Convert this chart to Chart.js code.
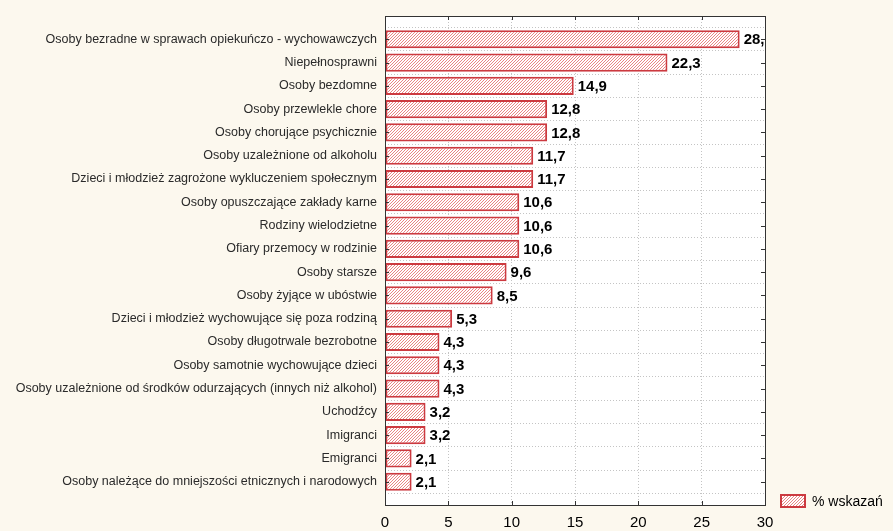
<!DOCTYPE html>
<html lang="pl">
<head>
<meta charset="UTF-8">
<title>% wskazań</title>
<script src="https://cdn.jsdelivr.net/npm/chart.js"></script>
<style>
    body {
        margin: 0;
        background: #fcf8ee;
    }
    #wrap {
        width: 893px;
        height: 531px;
    }
</style>
</head>
<body>
<div id="wrap"><canvas id="chart"></canvas></div>
<script>
    const categories = [
        'Osoby bezradne w sprawach opiekuńczo - wychowawczych',
        'Niepełnosprawni',
        'Osoby bezdomne',
        'Osoby przewlekle chore',
        'Osoby chorujące psychicznie',
        'Osoby uzależnione od alkoholu',
        'Dzieci i młodzież zagrożone wykluczeniem społecznym',
        'Osoby opuszczające zakłady karne',
        'Rodziny wielodzietne',
        'Ofiary przemocy w rodzinie',
        'Osoby starsze',
        'Osoby żyjące w ubóstwie',
        'Dzieci i młodzież wychowujące się poza rodziną',
        'Osoby długotrwale bezrobotne',
        'Osoby samotnie wychowujące dzieci',
        'Osoby uzależnione od środków odurzających (innych niż alkohol)',
        'Uchodźcy',
        'Imigranci',
        'Emigranci',
        'Osoby należące do mniejszości etnicznych i narodowych'
    ];
    const values = [28.0, 22.3, 14.9, 12.8, 12.8, 11.7, 11.7, 10.6, 10.6, 10.6,
                    9.6, 8.5, 5.3, 4.3, 4.3, 4.3, 3.2, 3.2, 2.1, 2.1];
    const seriesName = '% wskazań';
    const xTicks = [0, 5, 10, 15, 20, 25, 30];

    // empty slot above and below so the bars sit one step away from the frame
    const labels = [''].concat(categories, ['']);
    const data = [null].concat(values, [null]);

    // pink diagonal hatch, one pixel per row so it stays crisp
    function hatch() {
        const c = document.createElement('canvas');
        c.width = 3; c.height = 3;
        const g = c.getContext('2d');
        g.fillStyle = '#ffffff';
        g.fillRect(0, 0, 3, 3);
        g.fillStyle = '#e98585';
        for (let i = 0; i < 3; i++) g.fillRect(i, 2 - i, 1, 1);
        return g.createPattern(c, 'repeat');
    }
    const pattern = hatch();
    const barBorder = '#cc3a40';
    const font = '"Liberation Sans", Arial, sans-serif';

    const frame = {
        id: 'frame',
        beforeDraw(chart) {
            const { ctx, chartArea: a } = chart;
            ctx.save();
            ctx.fillStyle = '#ffffff';
            ctx.fillRect(a.left, a.top, a.right - a.left, a.bottom - a.top);
            ctx.restore();
        },
        afterDraw(chart) {
            const { ctx, chartArea: a, scales } = chart;
            ctx.save();
            ctx.strokeStyle = '#333333';
            ctx.lineWidth = 1;
            ctx.beginPath();
            for (let i = 1; i <= categories.length; i++) {
                const y = Math.round(scales.y.getPixelForValue(i)) + 0.5;
                ctx.moveTo(a.left, y); ctx.lineTo(a.left + 4, y);
                ctx.moveTo(a.right - 4, y); ctx.lineTo(a.right, y);
            }
            xTicks.forEach(v => {
                const x = Math.round(scales.x.getPixelForValue(v)) + 0.5;
                ctx.moveTo(x, a.bottom); ctx.lineTo(x, a.bottom - 4);
                ctx.moveTo(x, a.top); ctx.lineTo(x, a.top + 4);
            });
            ctx.stroke();
            ctx.strokeRect(Math.round(a.left) + 0.5, Math.round(a.top) + 0.5,
                Math.round(a.right - a.left), Math.round(a.bottom - a.top));

            // legend box under the right side of the frame
            ctx.fillStyle = pattern;
            ctx.fillRect(781, 495, 24, 12);
            ctx.strokeStyle = barBorder;
            ctx.lineWidth = 2;
            ctx.strokeRect(781, 495, 24, 12);
            ctx.fillStyle = '#000000';
            ctx.font = '14px ' + font;
            ctx.textBaseline = 'middle';
            ctx.fillText(seriesName, 812, 502);

            // value labels, clipped to the plot frame
            ctx.beginPath();
            ctx.rect(a.left, a.top, a.right - a.left, a.bottom - a.top);
            ctx.clip();
            ctx.font = 'bold 15px ' + font;
            const meta = chart.getDatasetMeta(0);
            meta.data.forEach((bar, i) => {
                if (data[i] == null) return;
                ctx.fillText(data[i].toFixed(1).replace('.', ','), bar.x + 4, bar.y + 1);
            });
            ctx.restore();
        }
    };

    new Chart(document.getElementById('chart'), {
        type: 'bar',
        data: {
            labels: labels,
            datasets: [{
                label: seriesName,
                data: data,
                backgroundColor: pattern,
                borderColor: barBorder,
                borderWidth: 2,
                borderSkipped: false,
                categoryPercentage: 1,
                barPercentage: 0.78
            }]
        },
        options: {
            indexAxis: 'y',
            responsive: true,
            maintainAspectRatio: false,
            animation: false,
            layout: { padding: { top: 16, left: 0, right: 128, bottom: 0 } },
            scales: {
                x: {
                    min: 0,
                    max: 30,
                    afterBuildTicks: s => { s.ticks = xTicks.map(v => ({ value: v })); },
                    afterFit: s => { s.height = 26; },
                    grid: {
                        color: '#c4c4c4',
                        drawTicks: false
                    },
                    border: { display: false, dash: [1, 2] },
                    ticks: {
                        color: '#000000',
                        padding: 9,
                        font: { family: font, size: 15 }
                    }
                },
                y: {
                    offset: false,
                    afterFit: s => { s.width = 385; },
                    grid: {
                        color: '#c4c4c4',
                        drawTicks: false
                    },
                    border: { display: false, dash: [1, 2] },
                    ticks: {
                        autoSkip: false,
                        color: '#2a2a2a',
                        padding: 8,
                        font: { family: font, size: 12.5 }
                    }
                }
            },
            plugins: {
                legend: { display: false },
                tooltip: { enabled: false }
            }
        },
        plugins: [frame]
    });
</script>
</body>
</html>
